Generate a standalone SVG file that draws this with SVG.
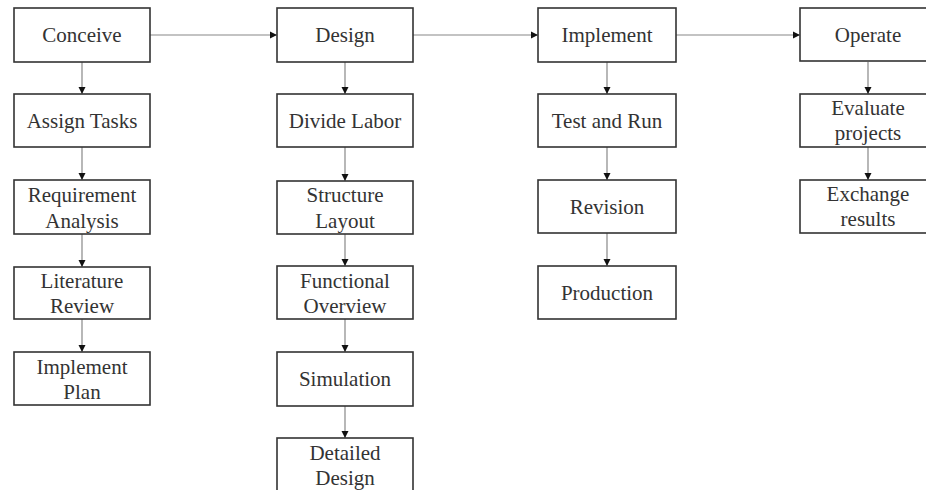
<svg xmlns="http://www.w3.org/2000/svg" width="926" height="490" viewBox="0 0 926 490">
<defs>
<marker id="ah" markerWidth="8" markerHeight="8" refX="7" refY="4" orient="auto" markerUnits="userSpaceOnUse">
<path d="M0,0.5 L7,4 L0,7.5 Z" fill="#111"/>
</marker>
<style>
.box{fill:#fff;stroke:#333;stroke-width:1.6}
.t{font-family:"Liberation Serif","Times New Roman",serif;font-size:21px;fill:#333;text-anchor:middle}
.c{stroke:#888;stroke-width:1.2;fill:none;marker-end:url(#ah)}
</style>
</defs>
<rect width="926" height="490" fill="#fff"/>
<g id="connectors">
<path class="c" d="M150,35 H277"/>
<path class="c" d="M413,35 H538"/>
<path class="c" d="M676,35 H800"/>
<path class="c" d="M82,62 V94"/>
<path class="c" d="M82,147 V180"/>
<path class="c" d="M82,234 V267"/>
<path class="c" d="M82,319 V352"/>
<path class="c" d="M345,62 V94"/>
<path class="c" d="M345,147 V181"/>
<path class="c" d="M345,234 V266"/>
<path class="c" d="M345,319 V352"/>
<path class="c" d="M345,406 V438"/>
<path class="c" d="M607,62 V94"/>
<path class="c" d="M607,147 V180"/>
<path class="c" d="M607,233 V266"/>
<path class="c" d="M868,62 V94"/>
<path class="c" d="M868,147 V180"/>
</g>
<g id="conceive"><rect class="box" x="14" y="8" width="136" height="54"/><text class="t" x="82" y="42">Conceive</text></g>
<g id="assign-tasks"><rect class="box" x="14" y="94" width="136" height="53"/><text class="t" x="82" y="128">Assign Tasks</text></g>
<g id="requirement-analysis"><rect class="box" x="14" y="180" width="136" height="54"/><text class="t" x="82" y="202">Requirement</text><text class="t" x="82" y="228">Analysis</text></g>
<g id="literature-review"><rect class="box" x="14" y="267" width="136" height="52"/><text class="t" x="82" y="288">Literature</text><text class="t" x="82" y="313">Review</text></g>
<g id="implement-plan"><rect class="box" x="14" y="352" width="136" height="53"/><text class="t" x="82" y="374">Implement</text><text class="t" x="82" y="399">Plan</text></g>

<g id="design"><rect class="box" x="277" y="8" width="136" height="54"/><text class="t" x="345" y="42">Design</text></g>
<g id="divide-labor"><rect class="box" x="277" y="94" width="136" height="53"/><text class="t" x="345" y="128">Divide Labor</text></g>
<g id="structure-layout"><rect class="box" x="277" y="181" width="136" height="53"/><text class="t" x="345" y="202">Structure</text><text class="t" x="345" y="228">Layout</text></g>
<g id="functional-overview"><rect class="box" x="277" y="266" width="136" height="53"/><text class="t" x="345" y="288">Functional</text><text class="t" x="345" y="313">Overview</text></g>
<g id="simulation"><rect class="box" x="277" y="352" width="136" height="54"/><text class="t" x="345" y="386">Simulation</text></g>
<g id="detailed-design"><rect class="box" x="277" y="438" width="136" height="60"/><text class="t" x="345" y="460">Detailed</text><text class="t" x="345" y="485">Design</text></g>

<g id="implement"><rect class="box" x="538" y="8" width="138" height="54"/><text class="t" x="607" y="42">Implement</text></g>
<g id="test-and-run"><rect class="box" x="538" y="94" width="138" height="53"/><text class="t" x="607" y="128">Test and Run</text></g>
<g id="revision"><rect class="box" x="538" y="180" width="138" height="53"/><text class="t" x="607" y="214">Revision</text></g>
<g id="production"><rect class="box" x="538" y="266" width="138" height="53"/><text class="t" x="607" y="300">Production</text></g>

<g id="operate"><rect class="box" x="800" y="8" width="140" height="53"/><text class="t" x="868" y="42">Operate</text></g>
<g id="evaluate-projects"><rect class="box" x="800" y="94" width="140" height="53"/><text class="t" x="868" y="115">Evaluate</text><text class="t" x="868" y="140">projects</text></g>
<g id="exchange-results"><rect class="box" x="800" y="180" width="140" height="53"/><text class="t" x="868" y="201">Exchange</text><text class="t" x="868" y="226">results</text></g>
</svg>
